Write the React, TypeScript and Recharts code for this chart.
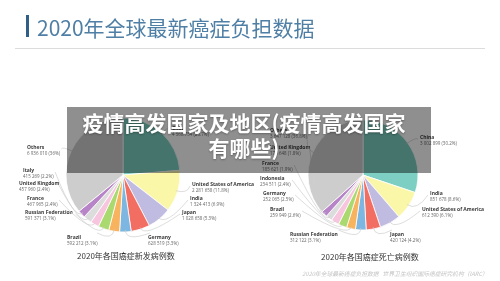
import { PieChart, Pie, Cell } from "recharts";

// 슬라이스 색 (두 파이 동일 순서)
const COLORS = [
  "#7ccfc2", "#fbf7a8", "#c0bbe0", "#f26d62", "#7db6e0", "#f8b35f",
  "#a9d96f", "#f7c6de", "#dcdcdc", "#b884c8", "#cdcdcd",
];

// 2020 new cases
const NEW_COUNTRIES = [
  "China", "United States of America", "India", "Japan", "Germany", "Brazil",
  "Russian Federation", "France", "United Kingdom", "Italy", "Others",
];
const NEW_CASES = [4568754, 2281658, 1324413, 1028658, 628519, 592212, 591371, 467965, 457960, 415269, 6936010];
const NEW_PCT = ["23.7%", "11.8%", "6.9%", "5.3%", "3.3%", "3.1%", "3.1%", "2.4%", "2.4%", "2.2%", "36%"];

// 2020 deaths
const DEATH_COUNTRIES = [
  "China", "India", "United States of America", "Japan", "Russian Federation", "Brazil",
  "Germany", "Indonesia", "France", "United Kingdom", "Others",
];
const DEATHS = [3002899, 851678, 612390, 420124, 312122, 259949, 252065, 234511, 185621, 179648, 3647128];
const DEATH_PCT = ["30.2%", "8.6%", "6.1%", "4.2%", "3.1%", "2.6%", "2.5%", "2.4%", "1.9%", "1.8%", "36.8%"];

// label placement relative to pie centre: [dx, dy, side]
type Side = "L" | "R" | "BL" | "BR";
const NEW_LABEL_POS: [number, number, Side][] = [
  [49, -47, "R"], [69, 9, "R"], [67, 23, "R"], [59, 37, "R"], [25, 62, "BR"], [-56, 62, "BL"],
  [-98, 37, "L"], [-96, 23, "L"], [-104, 8, "L"], [-100, -5, "L"], [-96, -28, "L"],
];
const DEATH_LABEL_POS: [number, number, Side][] = [
  [57, -38, "R"], [67, 18, "R"], [59, 34, "R"], [27, 59, "BR"], [-73, 59, "BL"], [-93, 34, "L"],
  [-100, 18, "L"], [-103, 3, "L"], [-101, -12, "L"], [-93, -28, "L"], [-93, -45, "L"],
];

const newData = NEW_COUNTRIES.map((name, i) => ({ name, value: NEW_CASES[i] }));
const deathData = DEATH_COUNTRIES.map((name, i) => ({ name, value: DEATHS[i] }));

const RAD = Math.PI / 180;
const spaced = (v: number) => String(v).replace(/\B(?=(\d{3})+(?!\d))/g, " ");
const LABEL_FONT = "'Open Sans', 'Liberation Sans', sans-serif";
const CJK = "'Noto Sans CJK SC', sans-serif";

function makeLabel(layout: [number, number, Side][], pcts: string[]) {
  return (p: any) => {
    const { cx, cy, midAngle, outerRadius, index, name, value } = p;
    const [dx, dy, side] = layout[index];
    const sx = cx + (outerRadius - 2) * Math.cos(-midAngle * RAD);
    const sy = cy + (outerRadius - 2) * Math.sin(-midAngle * RAD);
    const kx = cx + (outerRadius + 10) * Math.cos(-midAngle * RAD);
    const ky = cy + (outerRadius + 10) * Math.sin(-midAngle * RAD);
    const tx = cx + dx, ty = cy + dy;
    const num = `${spaced(value)} (${pcts[index]})`;
    const w = Math.max(name.length * 2.7, num.length * 2.15);
    let ex = tx - 2, ey = ty + 2;
    if (side === "L") { ex = tx + w + 2; ey = ty + 2; }
    else if (side === "BL") { ex = tx + w; ey = ty - 4; }
    else if (side === "BR") { ex = tx + 2; ey = ty - 4; }
    return (
      <g>
        <path d={`M${sx},${sy} Q${kx},${ky} ${ex},${ey}`} stroke="#cfcfcf" fill="none" strokeWidth={0.7} />
        <text x={tx} y={ty} dominantBaseline="central" fontSize={5} fontWeight="bold"
              fill="#3a3a3a" fontFamily={LABEL_FONT}>{name}</text>
        <text x={tx} y={ty + 6} dominantBaseline="central" fontSize={4.5}
              fill="#666" fontFamily={LABEL_FONT}>{num}</text>
      </g>
    );
  };
}

export default function App() {
  return (
    <div style={{
      position: "absolute", left: 0, top: 0, width: 500, height: 281, background: "#fff",
      overflow: "hidden", filter: "blur(0.3px)",
    }}>
      {/* header */}
      <div style={{ position: "absolute", left: 26, top: 15, width: 2.5, height: 22, background: "#2f5f86" }} />
      <div style={{
        position: "absolute", left: 37, top: 13, fontFamily: CJK, fontSize: 21,
        color: "#4f7fa5", lineHeight: "28px", whiteSpace: "nowrap",
      }}>2020年全球最新癌症负担数据</div>
      <div style={{ position: "absolute", left: 15, top: 48, width: 470, height: 1, background: "#dcdcdc" }} />

      <PieChart width={500} height={281} margin={{ top: 0, right: 0, bottom: 0, left: 0 }}
                style={{ position: "absolute", left: 0, top: 0 }}>
        <Pie data={newData} dataKey="value" nameKey="name" cx={123} cy={175} outerRadius={57}
             startAngle={90} endAngle={-270} stroke="#fff" strokeWidth={0.8}
             label={makeLabel(NEW_LABEL_POS, NEW_PCT)} labelLine={false} isAnimationActive={false}>
          {newData.map((d, i) => <Cell key={d.name} fill={COLORS[i]} />)}
        </Pie>
        <Pie data={deathData} dataKey="value" nameKey="name" cx={363} cy={175} outerRadius={55}
             startAngle={90} endAngle={-270} stroke="#fff" strokeWidth={0.8}
             label={makeLabel(DEATH_LABEL_POS, DEATH_PCT)} labelLine={false} isAnimationActive={false}>
          {deathData.map((d, i) => <Cell key={d.name} fill={COLORS[i]} />)}
        </Pie>
      </PieChart>

      {/* chart captions */}
      <div style={{ position: "absolute", left: 26, width: 200, top: 250, textAlign: "center", fontFamily: CJK, fontSize: 8, color: "#333", lineHeight: "12px" }}>
        2020年各国癌症新发病例数
      </div>
      <div style={{ position: "absolute", left: 270, width: 200, top: 251, textAlign: "center", fontFamily: CJK, fontSize: 8, color: "#333", lineHeight: "12px" }}>
        2020年各国癌症死亡病例数
      </div>
      <div style={{
        position: "absolute", left: 302, top: 269, fontFamily: CJK, fontSize: 5.8, fontStyle: "italic",
        color: "#c4c4c4", whiteSpace: "pre", lineHeight: "10px",
      }}>2020年全球最新癌症负担数据   世界卫生组织国际癌症研究机构（IARC）</div>

      {/* overlay headline */}
      <div style={{
        position: "absolute", left: 67, top: 107, width: 364, height: 66, background: "rgba(0,0,0,0.44)",
      }} />
      <div style={{
        position: "absolute", left: 62, top: 110, width: 364, textAlign: "center", fontFamily: CJK,
        fontWeight: 700, fontSize: 21, lineHeight: "25px", color: "#fff",
        textShadow: "0 1px 2px rgba(0,0,0,0.3)",
      }}>
        疫情高发国家及地区(疫情高发国家<br />有哪些)
      </div>
    </div>
  );
}
